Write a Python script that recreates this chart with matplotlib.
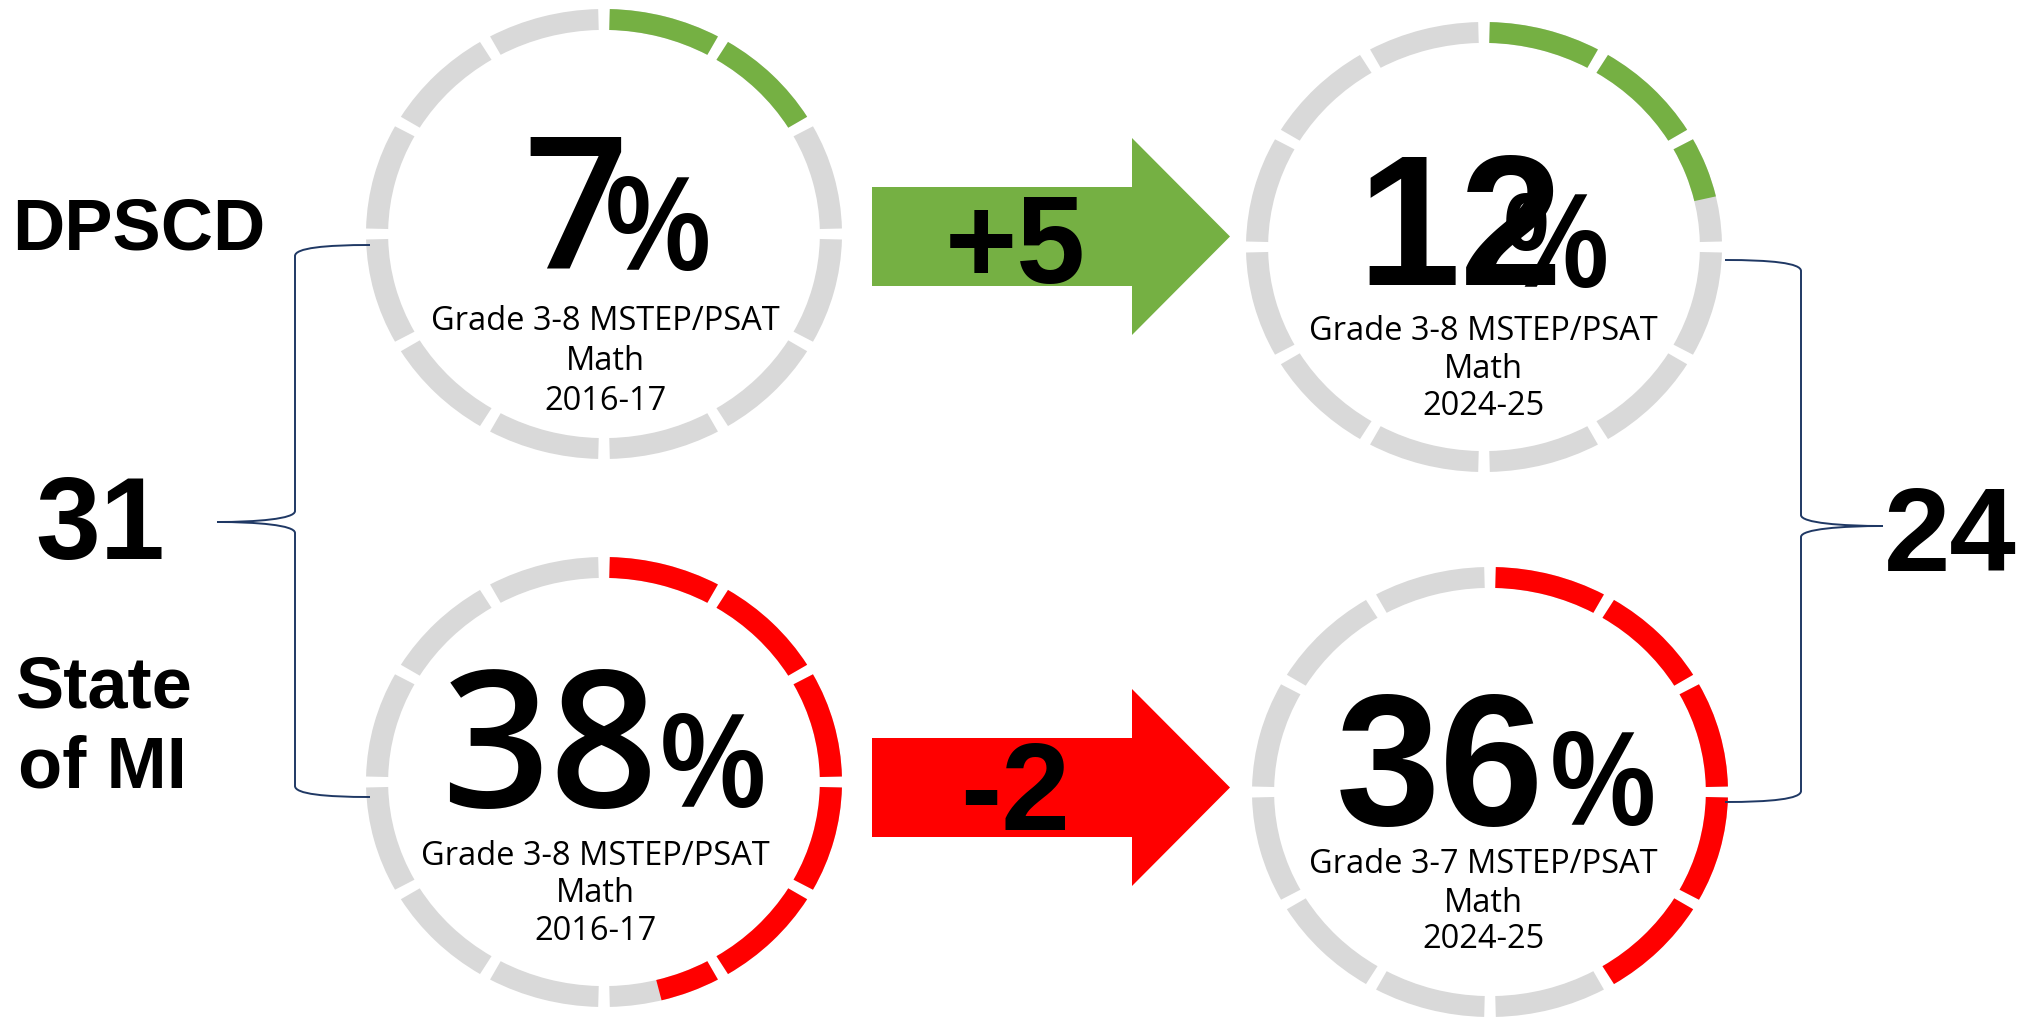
#!/usr/bin/env python3
"""
DPSCD vs State of MI math proficiency - ring infographic
"""
import matplotlib
matplotlib.use('Agg')
import matplotlib.pyplot as plt
from matplotlib.patches import Wedge, Polygon, PathPatch
from matplotlib.path import Path
from matplotlib.transforms import Affine2D

# Data
pct_values = [7, 12, 38, 36]                 # DPSCD 16-17, DPSCD 24-25, MI 16-17, MI 24-25
ring_fill_deg = [60, 77, 166, 150]           # how far round the ring the colour goes
subtitles = ['Grade 3-8 MSTEP/PSAT', 'Grade 3-8 MSTEP/PSAT',
             'Grade 3-8 MSTEP/PSAT', 'Grade 3-7 MSTEP/PSAT']
years = ['2016-17', '2024-25', '2016-17', '2024-25']
groups = ['DPSCD', 'State', 'of MI']
changes = [pct_values[1] - pct_values[0], pct_values[3] - pct_values[2]]
gaps = [pct_values[2] - pct_values[0], pct_values[3] - pct_values[1]]

# Colours
GREEN = '#75B043'
RED = '#FF0000'
GRAY = '#D9D9D9'
NAVY = '#1F3864'
ring_colors = [GREEN, GREEN, RED, RED]

W, H = 2022, 1017
fig = plt.figure(figsize=(W / 100, H / 100), dpi=100)
ax = fig.add_axes([0, 0, 1, 1])
ax.set_xlim(0, W)
ax.set_ylim(H, 0)
ax.axis('off')

# ring layout (pixel coords, y down)
ring_centers = [(604, 234), (1484, 247), (604, 782), (1490, 792)]
RX, RY = 238, 225
RING_W = 0.093
HALF_GAP = 1.4
N_SEG = 12

num_pos = [(576, 268), (1460, 285), (550, 807), (1440, 825)]
pct_pos = [(658, 270), (1556, 287), (713, 807), (1603, 825)]
num_size = [132, 133, 137, 135]
num_family = ['Open Sans', 'Liberation Sans', 'Open Sans', 'Liberation Sans']
num_weight = [600, 'bold', 600, 'bold']
sub_base = [(605, 330, 370, 410), (1483, 340, 378, 415),
            (595, 865, 902, 940), (1483, 873, 912, 948)]

for k, (cx, cy) in enumerate(ring_centers):
    tr = Affine2D().scale(RX, RY).translate(cx, cy) + ax.transData
    for i in range(N_SEG):
        a0 = i * 360 / N_SEG + HALF_GAP
        a1 = (i + 1) * 360 / N_SEG - HALF_GAP
        ax.add_patch(Wedge((0, 0), 1.0, a0 - 90, a1 - 90, width=RING_W,
                           facecolor=GRAY, edgecolor='none', transform=tr))
        if ring_fill_deg[k] > a0:
            ax.add_patch(Wedge((0, 0), 1.0, a0 - 90, min(a1, ring_fill_deg[k]) - 90,
                               width=RING_W, facecolor=ring_colors[k],
                               edgecolor='none', transform=tr))

    ax.text(num_pos[k][0], num_pos[k][1], str(pct_values[k]), family=num_family[k],
            fontsize=num_size[k], fontweight=num_weight[k], ha='center', va='baseline',
            color='black', zorder=5)
    ax.text(pct_pos[k][0], pct_pos[k][1], '%', family='Open Sans',
            fontsize=92, fontweight=600, ha='center', va='baseline',
            color='black', zorder=6)

    sx, b1, b2, b3 = sub_base[k]
    for txt, by in zip([subtitles[k], 'Math', years[k]], [b1, b2, b3]):
        ax.text(sx, by, txt, family='Open Sans', fontsize=23.5,
                ha='center', va='baseline', color='black', zorder=5)

# arrows between years
arrow_rows = [(187, 286, 138, 335), (738, 837, 689, 886)]
arrow_colors = [GREEN, RED]
X0, XH, XT = 872, 1132, 1230
for (s0, s1, h0, h1), col, ch in zip(arrow_rows, arrow_colors, changes):
    mid = (h0 + h1) / 2
    pts = [(X0, s0), (XH, s0), (XH, h0), (XT, mid), (XH, h1), (XH, s1), (X0, s1)]
    ax.add_patch(Polygon(pts, closed=True, facecolor=col, edgecolor='none'))
    label = f'+{ch}' if ch > 0 else f'-{abs(ch)}'
    ax.text(1015, s1 - 3 if ch > 0 else s1 - 7, label, family='Liberation Sans',
            fontsize=89, fontweight='bold', ha='center', va='baseline', color='black')


def brace(x_arm, x_spine, x_tip, y_top, y_mid, y_bot):
    c = Path.CURVE4
    verts = [(x_arm, y_top),
             (x_spine + 0.4 * (x_arm - x_spine), y_top), (x_spine, y_top + 3), (x_spine, y_top + 11),
             (x_spine, y_mid - 11),
             (x_spine, y_mid - 3), (x_spine + 0.5 * (x_tip - x_spine), y_mid), (x_tip, y_mid),
             (x_spine + 0.5 * (x_tip - x_spine), y_mid), (x_spine, y_mid + 3), (x_spine, y_mid + 11),
             (x_spine, y_bot - 11),
             (x_spine, y_bot - 3), (x_spine + 0.4 * (x_arm - x_spine), y_bot), (x_arm, y_bot)]
    codes = [Path.MOVETO, c, c, c, Path.LINETO, c, c, c, c, c, c, Path.LINETO, c, c, c]
    ax.add_patch(PathPatch(Path(verts, codes), facecolor='none', edgecolor=NAVY, lw=1.4))


brace(370, 295, 217, 245, 522, 797)
brace(1725, 1801, 1883, 260, 526, 802)

# side labels
ax.text(12, 250, groups[0], family='Liberation Sans', fontsize=52,
        fontweight='bold', ha='left', va='baseline', color='black')
ax.text(16, 708, groups[1], family='Liberation Sans', fontsize=52,
        fontweight='bold', ha='left', va='baseline', color='black')
ax.text(18, 788, groups[2], family='Liberation Sans', fontsize=52,
        fontweight='bold', ha='left', va='baseline', color='black')
ax.text(100, 559, str(gaps[0]), family='Liberation Sans', fontsize=84,
        fontweight='bold', ha='center', va='baseline', color='black')
ax.text(1950, 571, str(gaps[1]), family='Liberation Sans', fontsize=86,
        fontweight='bold', ha='center', va='baseline', color='black')

plt.savefig('out.png', dpi=100, facecolor='white')
plt.close()
